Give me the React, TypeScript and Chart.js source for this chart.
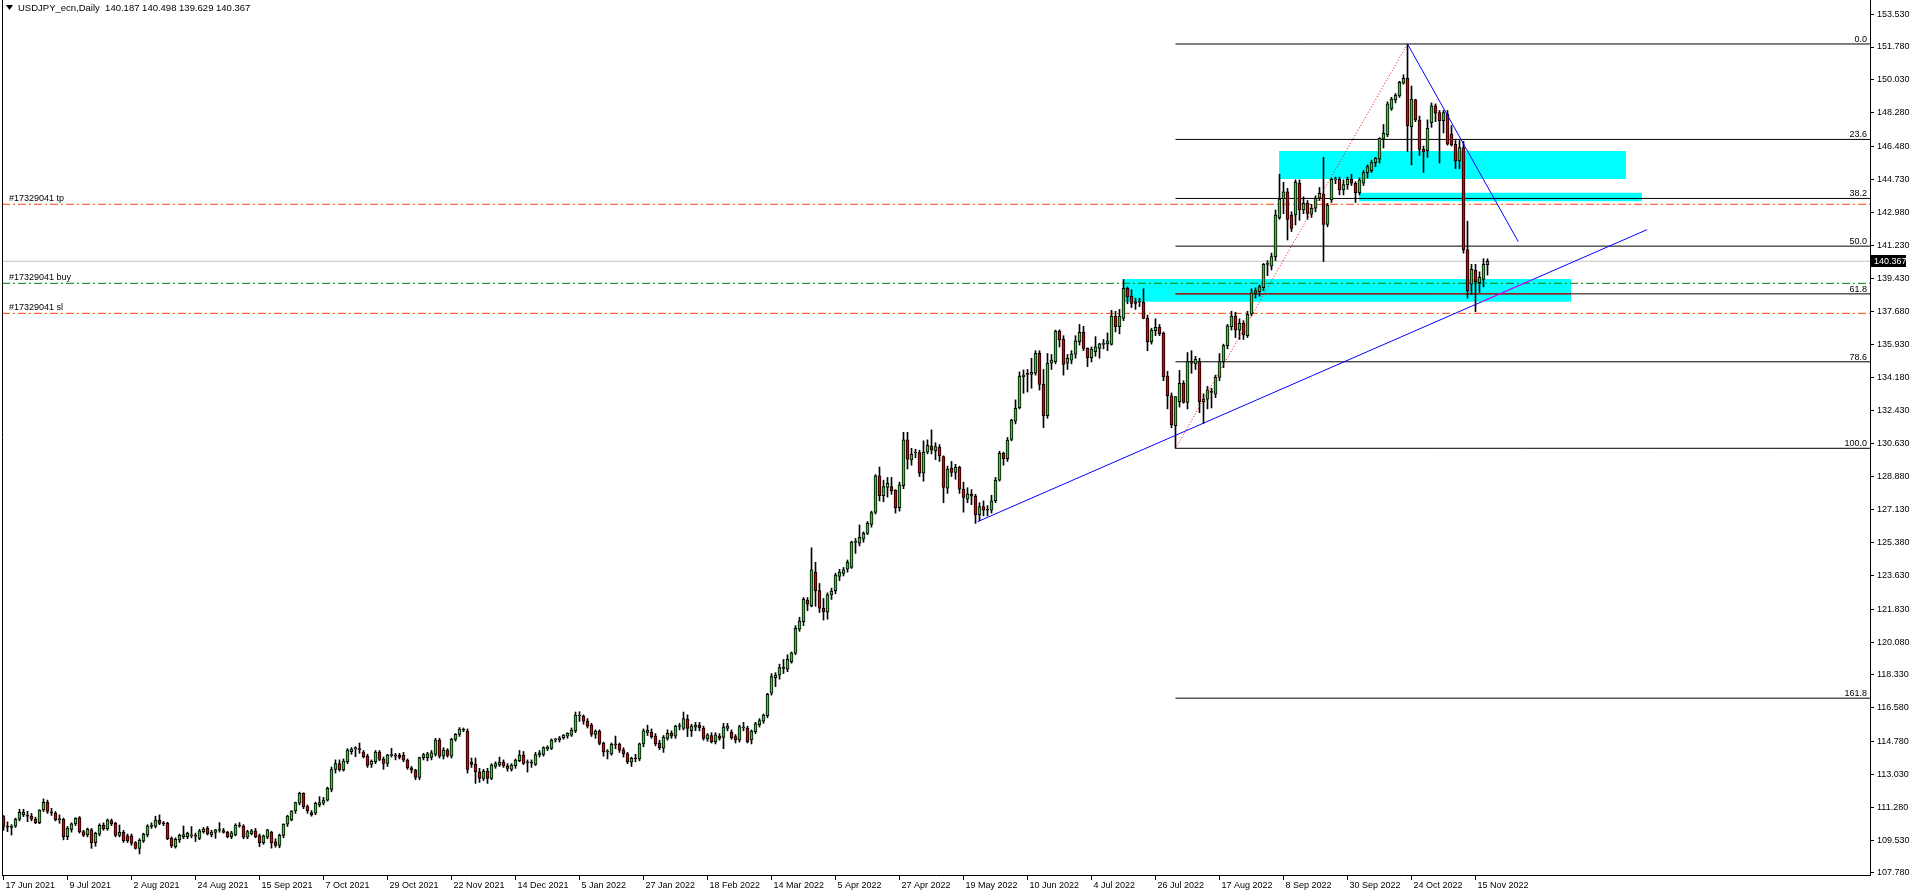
import React, { useEffect, useRef } from 'react';
import { Chart, registerables } from 'chart.js';

Chart.register(...registerables);

const FONT = "'Liberation Sans', Arial, sans-serif";
const TITLE = 'USDJPY_ecn,Daily  140.187 140.498 139.629 140.367';

// x axis: bar index, one bar per weekday starting 17 Jun 2021
const X_MIN = -0.375;
const X_MAX = 466.625;
const X_TICK_BARS = [0, 16, 32, 48, 64, 80, 96, 112, 128, 144, 160, 176, 192, 208, 224, 240, 256, 272, 288, 304, 320, 336, 352, 368];
const X_TICK_LABELS = ['17 Jun 2021', '9 Jul 2021', '2 Aug 2021', '24 Aug 2021', '15 Sep 2021', '7 Oct 2021', '29 Oct 2021', '22 Nov 2021', '14 Dec 2021', '5 Jan 2022', '27 Jan 2022', '18 Feb 2022', '14 Mar 2022', '5 Apr 2022', '27 Apr 2022', '19 May 2022', '10 Jun 2022', '4 Jul 2022', '26 Jul 2022', '17 Aug 2022', '8 Sep 2022', '30 Sep 2022', '24 Oct 2022', '15 Nov 2022'];

const Y_MIN = 107.668;
const Y_MAX = 154.284;
const Y_TICKS = [153.53, 151.78, 150.03, 148.28, 146.48, 144.73, 142.98, 141.23, 139.43, 137.68, 135.93, 134.18, 132.43, 130.63, 128.88, 127.13, 125.38, 123.63, 121.83, 120.08, 118.33, 116.58, 114.78, 113.03, 111.28, 109.53, 107.78];

// [open, high, low, close] per daily bar
const jun21 = [[110.78,110.84,110.05,110.25],[110.25,110.50,109.98,110.21],[110.20,110.35,109.80,110.28],[110.27,110.70,110.20,110.64],[110.64,111.17,110.55,111.01],[110.88,111.17,110.78,111.01],[110.86,111.06,110.51,110.80],[110.81,110.95,110.55,110.64],[110.64,110.75,110.40,110.46],[110.46,111.15,110.40,111.13]];
const jul21 = [[111.13,111.72,111.05,111.54],[111.54,111.66,110.95,111.05],[111.02,111.22,110.84,110.98],[110.96,111.05,110.55,110.60],[110.62,110.87,110.42,110.64],[110.64,110.70,109.54,109.71],[109.71,110.25,109.55,110.16],[110.10,110.45,109.95,110.39],[110.39,110.72,110.30,110.69],[110.73,110.78,109.90,109.98],[109.98,110.05,109.72,109.77],[109.80,110.17,109.70,110.10],[110.07,110.15,109.09,109.39],[109.39,109.95,109.20,109.89],[109.84,110.40,109.75,110.32],[110.32,110.45,110.05,110.14],[110.14,110.65,110.05,110.60],[110.57,110.65,110.30,110.39],[110.42,110.48,109.70,109.77],[109.77,110.33,109.70,109.94],[109.94,110.05,109.40,109.50],[109.75,109.85,109.40,109.48]];
const aug21 = [[109.75,109.85,109.25,109.36],[109.39,109.45,109.05,109.09],[109.09,109.60,108.79,109.52],[109.48,109.90,109.40,109.84],[109.80,110.35,109.70,110.28],[110.25,110.45,110.15,110.33],[110.25,110.80,110.18,110.60],[110.58,110.87,110.35,110.42],[110.42,110.52,110.30,110.40],[110.42,110.48,109.55,109.61],[109.62,109.70,109.12,109.23],[109.18,109.65,109.10,109.57],[109.54,109.85,109.40,109.78],[109.71,110.28,109.60,109.82],[109.71,109.95,109.60,109.89],[109.75,110.25,109.65,109.78],[109.78,109.90,109.45,109.74],[109.62,110.10,109.55,110.02],[109.98,110.20,109.90,110.12],[110.16,110.25,109.80,109.86],[109.80,110.05,109.70,109.96],[109.94,110.10,109.62,110.07]];
const sep21 = [[110.05,110.46,109.95,110.07],[110.04,110.15,109.90,109.94],[109.94,110.00,109.65,109.71],[109.71,110.00,109.60,109.91],[109.80,110.40,109.75,110.33],[110.30,110.46,110.21,110.28],[110.28,110.35,109.60,109.68],[109.68,110.05,109.60,109.98],[109.87,110.10,109.80,110.02],[110.02,110.15,109.65,109.71],[109.77,109.85,109.18,109.39],[109.39,109.80,109.30,109.75],[109.68,110.10,109.60,110.07],[109.94,110.00,109.10,109.39],[109.43,109.60,109.15,109.25],[109.25,109.85,109.12,109.78],[109.78,110.40,109.65,110.37],[110.37,110.85,110.25,110.81],[110.60,111.10,110.55,111.08],[111.08,111.55,110.95,111.52],[111.49,112.08,111.40,112.02],[112.02,112.05,111.20,111.31]];
const oct21 = [[111.31,111.40,110.95,111.10],[110.99,111.10,110.80,110.87],[110.96,111.55,110.88,111.49],[111.40,111.84,111.30,111.52],[111.50,111.80,111.40,111.66],[111.66,112.35,111.60,112.29],[112.23,113.42,112.10,113.29],[113.29,113.80,113.10,113.61],[113.61,113.80,113.20,113.26],[113.26,113.85,113.20,113.74],[113.70,114.40,113.60,114.32],[114.24,114.45,114.10,114.38],[114.40,114.50,113.97,114.41],[114.38,114.70,114.15,114.35],[114.22,114.30,113.90,113.97],[114.00,114.10,113.40,113.51],[113.56,113.80,113.40,113.74],[113.70,114.30,113.60,114.22],[114.22,114.30,113.75,113.83],[113.84,113.95,113.30,113.61],[113.61,114.10,113.45,114.06]];
const nov21 = [[114.04,114.42,113.95,114.06],[114.04,114.15,113.80,114.00],[114.04,114.15,113.85,113.93],[114.04,114.20,113.70,113.79],[113.79,113.85,113.30,113.38],[113.38,113.45,113.10,113.26],[113.26,113.30,112.75,112.87],[112.87,113.95,112.75,113.93],[113.92,114.15,113.80,114.09],[113.92,114.20,113.75,114.12],[113.93,114.30,113.80,114.18],[114.09,114.95,114.00,114.86],[114.86,114.95,113.90,114.00],[114.00,114.45,113.85,114.32],[114.32,114.40,113.95,114.04],[114.00,114.95,113.90,114.89],[114.89,115.20,114.80,115.16],[115.16,115.52,115.05,115.44],[115.42,115.50,115.30,115.39],[115.34,115.45,113.10,113.29],[113.68,113.90,113.40,113.56],[113.56,113.90,112.55,113.17]];
const dec21 = [[113.17,113.35,112.60,112.81],[112.81,113.30,112.70,113.21],[113.21,113.35,112.55,112.81],[112.81,113.60,112.75,113.53],[113.45,113.70,113.35,113.61],[113.53,113.95,113.45,113.68],[113.68,113.80,113.40,113.49],[113.49,113.60,113.20,113.35],[113.29,113.60,113.20,113.53],[113.49,113.85,113.35,113.79],[113.76,114.30,113.70,114.06],[114.06,114.25,113.55,113.61],[113.65,113.80,113.15,113.70],[113.68,113.80,113.40,113.63],[113.56,114.20,113.50,114.09],[114.06,114.30,113.95,114.18],[114.09,114.50,114.00,114.45],[114.38,114.55,114.30,114.48],[114.41,114.92,114.35,114.86],[114.85,114.95,114.75,114.87],[114.86,115.05,114.75,114.98],[114.98,115.15,114.90,115.12],[115.07,115.25,114.95,115.21]];
const jan22 = [[115.12,115.50,115.05,115.39],[115.34,116.35,115.25,116.19],[116.14,116.37,115.85,116.19],[116.14,116.20,115.70,115.87],[115.87,116.00,115.50,115.60],[115.66,115.75,115.05,115.16],[115.16,115.40,114.95,115.34],[115.34,115.40,114.60,114.68],[114.68,114.75,114.00,114.22],[114.22,114.35,113.85,114.24],[114.12,114.70,114.05,114.63],[114.63,115.07,114.40,114.60],[114.63,114.70,114.20,114.32],[114.34,114.45,113.95,114.13],[114.13,114.20,113.60,113.71],[113.68,113.95,113.45,113.88],[113.88,114.10,113.70,113.85],[113.85,114.70,113.75,114.65],[114.65,115.45,114.50,115.35],[115.27,115.65,115.10,115.39],[115.27,115.45,114.95,115.04]];
const feb22 = [[115.07,115.20,114.55,114.65],[114.68,114.85,114.35,114.45],[114.42,115.10,114.20,115.00],[114.95,115.40,114.85,115.22],[115.22,115.35,114.95,115.07],[115.07,115.65,114.95,115.60],[115.58,115.75,115.40,115.60],[115.48,116.35,115.40,116.00],[115.98,116.20,115.04,115.48],[115.36,115.70,115.05,115.60],[115.54,115.80,115.35,115.66],[115.66,115.80,115.35,115.52],[115.50,115.60,114.85,114.95],[114.92,115.20,114.80,115.13],[115.10,115.25,114.70,114.77],[114.77,115.25,114.65,115.13],[115.07,115.20,114.85,114.95],[115.00,115.75,114.40,115.55],[115.48,115.75,115.35,115.60],[115.27,115.40,114.90,114.99]];
const mar22 = [[115.04,115.15,114.70,114.86],[114.86,115.65,114.75,115.57],[115.50,115.80,115.35,115.54],[115.50,115.60,114.70,114.77],[114.86,115.40,114.65,115.34],[115.30,115.80,115.20,115.73],[115.68,116.00,115.55,115.89],[115.86,116.25,115.75,116.19],[116.16,117.35,116.05,117.29],[117.35,118.40,117.25,118.24],[118.18,118.45,117.70,118.32],[118.32,118.90,118.10,118.72],[118.72,119.15,118.40,118.68],[118.63,119.40,118.50,119.16],[119.03,119.55,118.95,119.50],[119.48,120.95,119.40,120.81],[120.76,121.40,120.65,121.20],[121.17,122.45,120.95,122.36],[122.30,122.45,121.75,122.10],[122.02,125.10,121.95,123.92],[123.80,124.33,121.98,122.82],[122.82,123.20,121.65,121.88],[121.88,122.40,121.25,121.70]];
const apr22 = [[121.67,122.70,121.30,122.59],[122.59,122.95,122.35,122.80],[122.82,123.75,122.65,123.65],[123.57,123.95,123.35,123.80],[123.74,124.05,123.60,123.92],[123.96,124.45,123.80,124.33],[124.06,125.45,124.00,125.41],[125.39,125.60,124.80,125.39],[125.34,126.32,125.20,125.66],[125.56,125.95,125.40,125.87],[125.87,126.50,125.80,126.41],[126.35,127.05,126.20,126.98],[126.98,129.00,126.90,128.93],[128.93,129.40,127.60,127.88],[127.88,128.70,127.55,128.36],[128.31,128.85,127.80,128.54],[128.36,128.85,127.95,128.15],[128.18,128.20,126.95,127.24],[127.24,128.60,127.05,128.45],[128.41,131.25,128.25,130.85],[130.85,131.25,129.30,129.82]];
const may22 = [[129.78,130.40,129.50,130.08],[130.15,130.35,129.90,130.17],[130.17,130.30,128.90,129.07],[129.07,130.80,128.65,130.19],[130.19,130.85,130.10,130.56],[130.53,131.38,130.10,130.31],[130.26,130.70,129.80,130.49],[130.46,130.60,129.70,130.00],[129.96,130.00,127.50,128.32],[128.27,129.45,128.00,129.30],[129.34,129.70,128.90,129.11],[129.12,129.55,128.75,129.39],[129.39,129.45,128.00,128.22],[128.22,128.60,127.00,127.79],[127.69,128.30,127.50,127.97],[127.95,128.20,127.40,127.85],[127.85,127.95,126.40,126.85],[126.85,127.50,126.55,127.30],[127.30,127.60,126.80,127.10],[127.10,127.35,126.80,127.10],[127.10,127.90,126.95,127.60],[127.60,128.85,127.50,128.70]];
const jun22 = [[128.70,130.25,128.65,130.13],[130.13,130.20,129.50,129.85],[129.85,130.98,129.70,130.84],[130.88,131.95,130.80,131.91],[131.85,132.98,131.70,132.53],[132.57,134.47,132.50,134.25],[134.22,134.57,133.33,134.30],[134.35,134.60,133.40,134.34],[134.34,135.20,133.60,134.45],[134.40,135.60,134.30,135.46],[135.46,135.60,133.50,133.81],[133.81,134.60,131.50,132.14],[132.14,135.45,132.00,134.93],[134.93,135.40,134.60,135.10],[135.02,136.70,134.90,136.65],[136.65,136.71,135.80,136.17],[136.20,136.40,134.30,134.87],[134.93,135.40,134.60,135.20],[135.10,135.60,134.90,135.42],[135.41,136.40,135.20,136.12],[136.08,137.00,135.90,136.58],[136.58,136.90,135.60,135.72]];
const jul22 = [[135.72,135.75,134.75,135.23],[135.23,135.80,135.00,135.69],[135.55,136.35,135.30,135.81],[135.72,136.00,135.20,135.96],[135.94,136.20,135.70,135.99],[135.96,136.55,135.60,136.12],[135.94,137.75,135.90,137.45],[137.45,137.70,136.60,136.88],[136.88,137.80,136.50,137.45],[137.32,139.39,137.20,138.92],[138.92,139.00,138.10,138.48],[138.51,138.85,137.90,138.12],[138.20,138.40,137.80,138.12],[138.18,138.40,137.95,138.21],[138.18,138.90,137.30,137.32],[137.32,137.50,135.60,136.08],[136.08,136.80,135.95,136.70],[136.67,137.30,136.40,136.84],[136.84,137.00,136.40,136.49],[136.52,136.60,134.00,134.22],[134.25,134.50,132.50,133.20]];
const aug22 = [[133.20,133.35,131.50,131.65],[131.60,133.15,130.40,133.15],[132.88,134.55,132.60,133.86],[133.86,134.00,132.80,132.85],[132.85,135.50,132.50,135.02],[135.02,135.60,134.40,134.93],[134.89,135.30,134.60,135.16],[135.02,135.20,132.30,132.88],[132.88,133.30,131.73,133.02],[133.02,133.70,132.50,133.51],[133.45,133.60,132.55,133.38],[133.29,134.30,133.10,134.18],[134.18,135.45,134.00,135.02],[135.02,135.95,134.70,135.87],[135.87,137.00,135.70,136.92],[136.88,137.70,136.70,137.45],[137.45,137.65,136.30,136.70],[136.70,137.30,136.20,137.06],[137.06,137.20,136.20,136.44],[136.40,137.70,136.30,137.54],[137.54,138.90,137.45,138.69],[138.66,138.95,138.40,138.80],[138.75,139.10,138.50,139.01]];
const sep22 = [[138.96,140.25,138.80,140.20],[140.20,140.40,139.60,140.20],[140.11,140.80,139.90,140.61],[140.61,143.10,140.40,142.83],[142.69,145.00,142.60,143.68],[143.68,144.57,142.90,144.07],[144.07,144.25,141.50,142.60],[142.83,143.00,141.95,142.12],[142.83,144.70,142.30,144.57],[144.52,144.70,142.55,143.10],[143.10,143.80,142.90,143.45],[143.45,143.60,142.60,142.92],[142.88,143.40,142.70,143.19],[143.19,143.85,143.00,143.72],[143.72,144.30,143.60,143.99],[143.95,145.90,140.35,142.33],[142.33,143.45,142.20,143.36],[143.63,144.80,143.50,144.73],[144.70,144.85,144.50,144.73],[144.73,144.85,143.90,144.16],[144.16,144.70,143.90,144.45],[144.45,144.85,144.20,144.73]];
const oct22 = [[144.73,145.00,144.40,144.52],[144.52,144.60,143.50,144.02],[144.02,144.80,143.90,144.70],[144.52,145.20,144.40,145.09],[145.09,145.50,144.80,145.41],[145.19,145.75,145.10,145.62],[145.62,145.90,145.40,145.85],[145.80,146.95,145.60,146.92],[146.88,147.65,146.40,147.18],[147.10,148.86,147.00,148.75],[148.48,149.10,148.40,149.01],[148.96,149.30,148.80,149.22],[149.17,149.95,149.10,149.90],[149.85,150.30,149.80,150.11],[150.11,151.94,146.20,147.59],[147.54,149.70,145.50,149.01],[148.96,149.00,147.80,147.89],[147.89,148.10,146.00,146.33],[146.33,146.50,145.10,146.20],[146.24,147.90,145.90,147.45],[147.75,148.80,147.50,148.64]];
const nov22 = [[148.64,148.75,147.80,148.25],[148.28,148.40,145.60,147.86],[147.86,148.40,147.20,148.28],[148.21,148.40,146.55,146.60],[147.15,147.60,146.50,146.56],[146.60,146.80,145.30,145.71],[145.71,146.80,145.30,146.42],[146.42,146.75,140.80,140.97],[140.97,142.50,138.40,138.78],[139.14,140.20,138.60,139.94],[139.90,140.20,137.68,139.28],[139.23,139.80,138.70,139.51],[139.40,140.50,139.00,140.20],[140.187,140.498,139.629,140.367]];

// Fibonacci retracement (Aug 2 low -> Oct 21 high)
const FIB_LOW = 130.40;
const FIB_HIGH = 151.94;
const FIB_LOW_BAR = 293;
const FIB_HIGH_BAR = 351;
const FIB_LEVELS = [0, 23.6, 38.2, 50, 61.8, 78.6, 100, 161.8];

// order lines
const TRADE_LINE_LABELS = ['#17329041 tp', '#17329041 buy', '#17329041 sl'];
const TRADE_LINE_PRICES = [143.40, 139.19, 137.59];
const TRADE_LINE_COLORS = ['#FF4500', '#008000', '#FF4500'];
const BID = 140.367;

// rectangles: [x1, x2, top, bottom]
const BOX_UPPER = [318.9, 405.6, 146.24, 144.75];
const BOX_THIN = [338.9, 409.6, 144.02, 143.56];
const BOX_LOWER = [279.9, 391.9, 139.42, 138.21];

// trend lines: [x, price] pairs
const TREND_UP = [[243.5, 126.49], [410.9, 142.05]];
const TREND_UP_IN_BOX = [[369.5, 138.2], [382.5, 139.41]];
const TREND_DOWN = [[351, 151.94], [378.7, 141.41]];

const BULL = '#32CD32';
const BEAR = '#E00000';

const BARS = [...jun21, ...jul21, ...aug21, ...sep21, ...oct21, ...nov21, ...dec21, ...jan22, ...feb22, ...mar22, ...apr22, ...may22, ...jun22, ...jul22, ...aug22, ...sep22, ...oct22, ...nov22];

const fibPrice = (lvl: number) => FIB_HIGH - (FIB_HIGH - FIB_LOW) * lvl / 100;

function lineDs(points: number[][], color: string, dash: number[], order: number, width = 1): any {
  return {
    type: 'line',
    data: points.map(p => ({ x: p[0], y: p[1] })),
    borderColor: color,
    borderWidth: width,
    borderDash: dash,
    pointRadius: 0,
    tension: 0,
    fill: false,
    order,
  };
}

function boxDs(b: number[]): any {
  return {
    type: 'line',
    data: [{ x: b[0], y: b[2] }, { x: b[1], y: b[2] }],
    borderColor: 'rgba(0,0,0,0)',
    borderWidth: 0,
    pointRadius: 0,
    backgroundColor: '#00FFFF',
    fill: { value: b[3] },
    order: 10,
  };
}

const overlay = {
  id: 'mt4overlay',
  afterDraw(chart: any) {
    const { ctx, chartArea, scales } = chart;
    const y = scales.y;
    ctx.save();
    // left frame
    ctx.strokeStyle = '#000';
    ctx.lineWidth = 1;
    ctx.beginPath();
    ctx.moveTo(chartArea.left + 0.5, 0);
    ctx.lineTo(chartArea.left + 0.5, chartArea.bottom);
    ctx.stroke();
    ctx.font = `9px ${FONT}`;
    ctx.fillStyle = '#000';
    // title
    ctx.beginPath();
    ctx.moveTo(6, 5);
    ctx.lineTo(13, 5);
    ctx.lineTo(9.5, 10);
    ctx.closePath();
    ctx.fill();
    ctx.textBaseline = 'middle';
    ctx.textAlign = 'left';
    ctx.font = `9.5px ${FONT}`;
    ctx.fillText(TITLE, 18, 8.5);
    ctx.font = `9px ${FONT}`;
    // order line labels
    ctx.textBaseline = 'alphabetic';
    TRADE_LINE_LABELS.forEach((t, i) => {
      ctx.fillText(t, chartArea.left + 7, y.getPixelForValue(TRADE_LINE_PRICES[i]) - 3);
    });
    // fib labels
    ctx.textAlign = 'right';
    FIB_LEVELS.forEach(l => {
      ctx.fillText(l.toFixed(1), chartArea.right - 3, y.getPixelForValue(fibPrice(l)) - 2);
    });
    // bid label on the axis
    const by = Math.round(y.getPixelForValue(BID));
    ctx.fillStyle = '#000';
    ctx.fillRect(chartArea.right + 1, by - 6, 35, 12);
    ctx.fillStyle = '#fff';
    ctx.textAlign = 'left';
    ctx.textBaseline = 'middle';
    ctx.fillText(BID.toFixed(3), chartArea.right + 4, by + 0.5);
    ctx.restore();
  },
};

export default function App() {
  const ref = useRef<HTMLCanvasElement>(null);
  useEffect(() => {
    if (!ref.current) return;
    Chart.defaults.font.family = FONT;
    const datasets: any[] = [];
    datasets.push(boxDs(BOX_UPPER), boxDs(BOX_THIN), boxDs(BOX_LOWER));
    FIB_LEVELS.forEach(l => {
      datasets.push(lineDs([[FIB_LOW_BAR, fibPrice(l)], [X_MAX, fibPrice(l)]], '#000', [], 6));
    });
    datasets.push(lineDs([[FIB_LOW_BAR, fibPrice(61.8)], [BOX_LOWER[1], fibPrice(61.8)]], '#FF0000', [], 5.5));
    datasets.push(lineDs([[X_MIN, BID], [X_MAX, BID]], '#C0C0C0', [], 5));
    TRADE_LINE_PRICES.forEach((p, i) => {
      datasets.push(lineDs([[X_MIN, p], [X_MAX, p]], TRADE_LINE_COLORS[i], [8, 3, 2, 3], 4));
    });
    datasets.push({
      type: 'bar',
      data: BARS.map((b, i) => ({ x: i, y: [b[2], b[1]] })),
      backgroundColor: '#000',
      borderWidth: 0,
      barThickness: 1,
      grouped: false,
      order: 3,
    });
    datasets.push({
      type: 'bar',
      data: BARS.map((b, i) => ({ x: i, y: [b[0], b[3]] })),
      backgroundColor: BARS.map(b => (b[3] >= b[0] ? BULL : BEAR)),
      borderColor: '#000',
      borderWidth: 1,
      borderSkipped: false,
      barThickness: 3,
      minBarLength: 1,
      grouped: false,
      order: 2,
    });
    datasets.push(lineDs([[FIB_LOW_BAR, FIB_LOW], [FIB_HIGH_BAR, FIB_HIGH]], '#FF0000', [1, 2], 1));
    datasets.push(lineDs(TREND_UP, '#0000FF', [], 1));
    datasets.push(lineDs(TREND_UP_IN_BOX, '#FF00FF', [], 0.5));
    datasets.push(lineDs(TREND_DOWN, '#0000FF', [], 1));

    const chart = new Chart(ref.current, {
      type: 'bar',
      data: { datasets },
      plugins: [overlay],
      options: {
        responsive: false,
        animation: false,
        events: [],
        layout: { padding: { left: 2, top: 0, right: 0, bottom: 0 } },
        plugins: { legend: { display: false }, tooltip: { enabled: false } },
        scales: {
          x: {
            type: 'linear',
            min: X_MIN,
            max: X_MAX,
            offset: false,
            position: 'bottom',
            grid: { display: true, drawOnChartArea: false, drawTicks: true, tickLength: 5, color: '#000', offset: false },
            border: { display: true, color: '#000', width: 1 },
            ticks: {
              autoSkip: false,
              maxRotation: 0,
              minRotation: 0,
              align: 'start',
              labelOffset: 2,
              padding: 0,
              color: '#000',
              font: { size: 9, family: FONT },
              callback: (v: any) => {
                const k = X_TICK_BARS.indexOf(Number(v));
                return k >= 0 ? X_TICK_LABELS[k] : '';
              },
            },
            afterBuildTicks: (s: any) => {
              s.ticks = X_TICK_BARS.map(v => ({ value: v }));
            },
            afterFit: (s: any) => {
              s.height = 21;
              s.paddingLeft = 0;
              s.paddingRight = 0;
            },
          } as any,
          y: {
            type: 'linear',
            position: 'right',
            min: Y_MIN,
            max: Y_MAX,
            beginAtZero: false,
            grid: { display: true, drawOnChartArea: false, drawTicks: true, tickLength: 4, color: '#000' },
            border: { display: true, color: '#000', width: 1 },
            ticks: {
              autoSkip: false,
              padding: 3,
              color: '#000',
              font: { size: 9, family: FONT },
              callback: (v: any) => Number(v).toFixed(3),
            },
            afterBuildTicks: (s: any) => {
              s.ticks = Y_TICKS.map(v => ({ value: v }));
            },
            afterFit: (s: any) => {
              s.width = 46;
              s.paddingTop = 0;
              s.paddingBottom = 0;
            },
          } as any,
        },
      } as any,
    });
    return () => chart.destroy();
  }, []);
  return (
    <div style={{ position: 'fixed', left: 0, top: 0, width: 1916, height: 896, background: '#fff' }}>
      <canvas ref={ref} width={1916} height={896} style={{ display: 'block' }} />
    </div>
  );
}
